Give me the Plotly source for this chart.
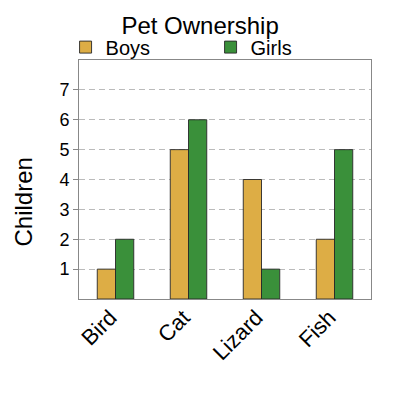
import plotly.graph_objects as go

# 数据
pets = ["Bird", "Cat", "Lizard", "Fish"]
boys = [1, 5, 4, 2]
girls = [2, 6, 1, 5]
y_ticks = [1, 2, 3, 4, 5, 6, 7]

_COLOR_BOYS = "#DDAD45"
_COLOR_GIRLS = "#3A903A"
_OUTLINE = "rgba(40,40,40,0.9)"
_AXIS = "#888888"
_GRID = "#BBBBBB"
_FONT = "Liberation Sans, Arial, sans-serif"

fig = go.Figure()

for name, vals, color in (("Boys", boys, _COLOR_BOYS), ("Girls", girls, _COLOR_GIRLS)):
    fig.add_trace(
        go.Bar(
            x=pets,
            y=vals,
            name=name,
            marker=dict(color=color, line=dict(color=_OUTLINE, width=1)),
        )
    )

# 页面 body 有 8px 默认边距，整体尺寸缩 8px 补偿
fig.update_layout(
    width=392,
    height=392,
    margin=dict(l=71, r=29, t=52, b=101, autoexpand=False),
    paper_bgcolor="white",
    plot_bgcolor="white",
    font=dict(family=_FONT, color="black", size=18),
    title=dict(text="Pet Ownership", x=0.49, xanchor="center", y=0.954, yanchor="middle",
               font=dict(size=24)),
    barmode="group",
    bargap=0.5,
    bargroupgap=0,
    legend=dict(
        orientation="h",
        x=-0.046, xanchor="left",
        y=1.054, yanchor="middle",
        font=dict(size=20),
        entrywidth=100,
        entrywidthmode="pixels",
        itemwidth=30,
        bgcolor="rgba(0,0,0,0)",
        borderwidth=0,
        tracegroupgap=0,
    ),
    xaxis=dict(
        range=[-0.5, 3.5],
        tickangle=-45,
        tickfont=dict(size=22),
        ticklabelshift=-5,
        ticklabelstandoff=-4,
        showline=True,
        linecolor=_AXIS,
        linewidth=1,
        mirror=True,
        showgrid=False,
        ticks="",
        automargin=False,
    ),
    yaxis=dict(
        range=[0, 8],
        tickvals=y_ticks,
        ticks="outside",
        ticklen=5,
        tickcolor=_AXIS,
        showline=True,
        linecolor=_AXIS,
        linewidth=1,
        mirror=True,
        showgrid=True,
        gridcolor=_GRID,
        griddash="6px,4px",
        gridwidth=1,
        zeroline=False,
        automargin=False,
    ),
    annotations=[
        dict(
            text="Children",
            xref="paper", yref="paper",
            x=-0.19, y=0.406,
            xanchor="center", yanchor="middle",
            textangle=-90,
            showarrow=False,
            font=dict(size=24),
        )
    ],
)

fig.write_html("out.html")
